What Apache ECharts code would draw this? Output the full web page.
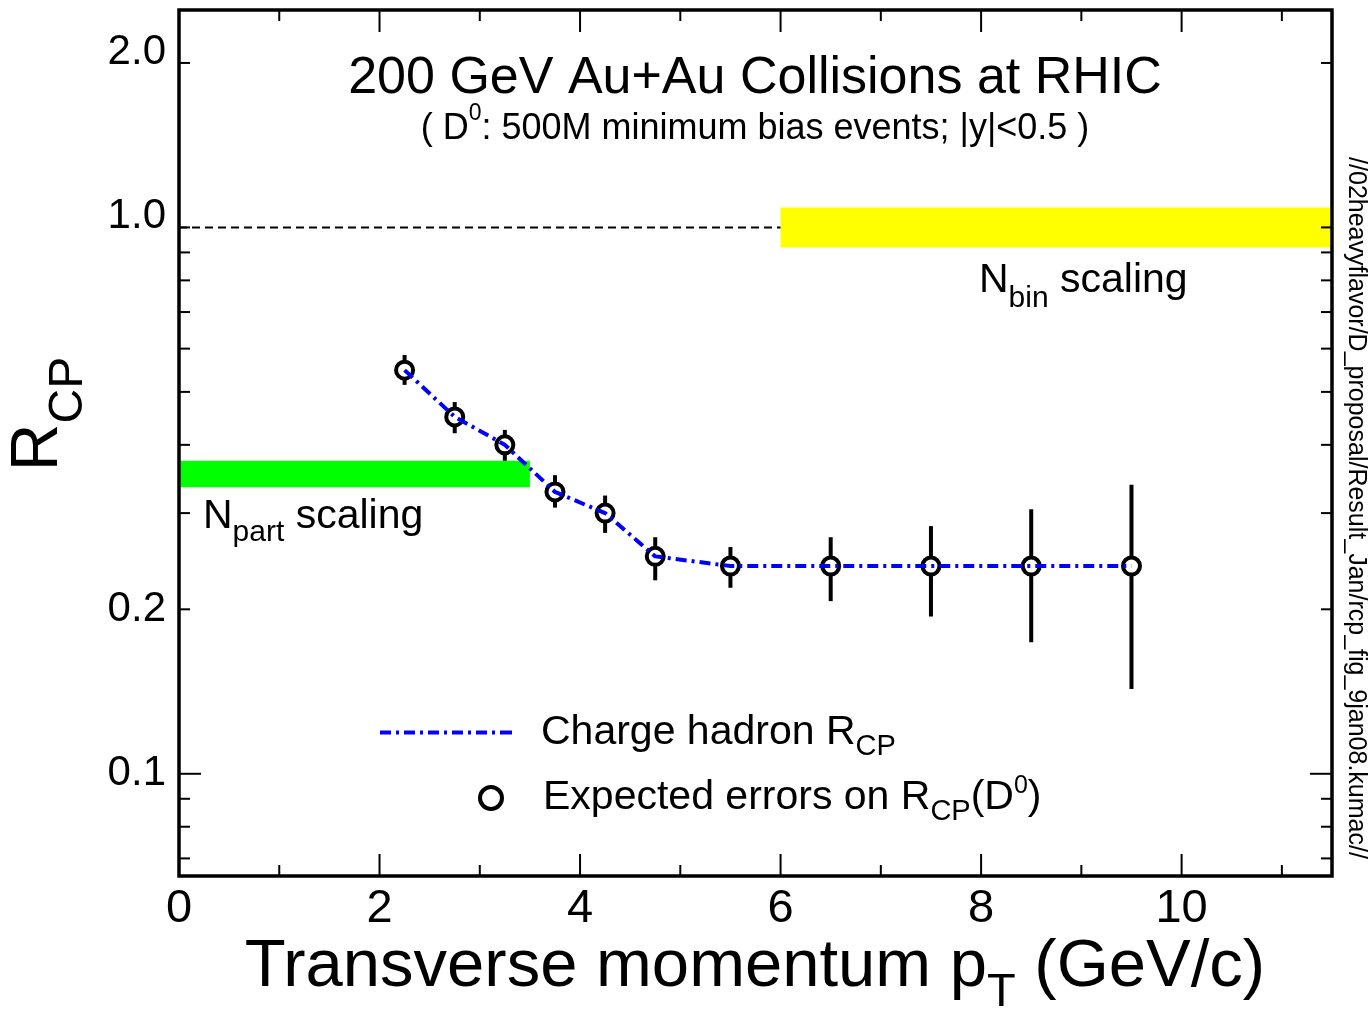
<!DOCTYPE html>
<html>
<head>
<meta charset="utf-8">
<script src="https://cdn.jsdelivr.net/npm/echarts@6/dist/echarts.min.js"></script>
<style>
html,body{margin:0;padding:0;background:#fff;}
#chart{width:1369px;height:1012px;}
</style>
</head>
<body>
<div id="chart"></div>
<script>
// ---------------- data ----------------
const ptD0      = [2.25, 2.75, 3.25, 3.75, 4.25, 4.75, 5.5, 6.5, 7.5, 8.5, 9.5];
const rcpD0     = [0.548, 0.450, 0.400, 0.328, 0.300, 0.250, 0.240, 0.240, 0.240, 0.240, 0.240];
const rcpD0Low  = [0.515, 0.420, 0.374, 0.307, 0.276, 0.226, 0.219, 0.207, 0.194, 0.174, 0.143];
const rcpD0High = [0.584, 0.479, 0.426, 0.352, 0.323, 0.271, 0.260, 0.271, 0.284, 0.305, 0.338];
const ptHadron  = [2.25, 2.75, 3.25, 3.75, 4.25, 4.75, 5.5, 6.5, 7.5, 8.5, 9.5];
const rcpHadron = [0.548, 0.450, 0.400, 0.328, 0.300, 0.250, 0.240, 0.240, 0.240, 0.240, 0.240];
const nbinBandPt   = [6, 11.5];
const nbinBandRcp  = [0.919, 1.088];
const npartBandPt  = [0, 3.5];
const npartBandRcp = [0.3345, 0.3742];
const unityPt  = [0, 6];
const unityRcp = [1, 1];
const xLabelTicks = [0, 2, 4, 6, 8, 10];
const xMinorTicks = [1, 3, 5, 7, 9, 11];
const yLabelTicks = [0.1, 0.2, 1, 2];
const yLabelText  = ['0.1', '0.2', '1.0', '2.0'];
const yShortTicks = [2, 1, 0.9, 0.8, 0.7, 0.6, 0.5, 0.4, 0.3, 0.2, 0.09, 0.08, 0.07];
const yLongTicks  = [0.1];

// ---------------- layout / style ----------------
const FONT = '"Liberation Sans", Arial, Helvetica, sans-serif';
const X_MIN = 0, X_MAX = 11.5, Y_MIN = 0.065, Y_MAX = 2.5;
const GRID = {left: 179, top: 10, width: 1153, height: 866};
const TICK_COLOR = '#000';

function xTickRender(len) {
  return function (params, api) {
    const x = api.value(0);
    const b = api.coord([x, Y_MIN]);
    const t = api.coord([x, Y_MAX]);
    return {type: 'group', children: [
      {type: 'line', shape: {x1: b[0], y1: b[1], x2: b[0], y2: b[1] - len}, style: {stroke: TICK_COLOR, lineWidth: 2}},
      {type: 'line', shape: {x1: t[0], y1: t[1], x2: t[0], y2: t[1] + len}, style: {stroke: TICK_COLOR, lineWidth: 2}}
    ]};
  };
}
function yTickRender(len) {
  return function (params, api) {
    const v = api.value(1);
    const l = api.coord([X_MIN, v]);
    const r = api.coord([X_MAX, v]);
    return {type: 'group', children: [
      {type: 'line', shape: {x1: l[0], y1: l[1], x2: l[0] + len, y2: l[1]}, style: {stroke: TICK_COLOR, lineWidth: 2}},
      {type: 'line', shape: {x1: r[0], y1: r[1], x2: r[0] - len, y2: r[1]}, style: {stroke: TICK_COLOR, lineWidth: 2}}
    ]};
  };
}
const bandColors = ['#ffff00', '#00ff00'];

const DASHDOT_ICON = 'path://M0,0h11v4h-11zM16,0h3v4h-3zM24,0h11v4h-11zM40,0h3v4h-3zM48,0h11v4h-11zM64,0h3v4h-3zM72,0h11v4h-11zM88,0h3v4h-3zM96,0h11v4h-11zM112,0h3v4h-3zM120,0h12v4h-12z';

const chart = echarts.init(document.getElementById('chart'), null, {renderer: 'canvas'});

const option = {
  backgroundColor: '#fff',
  animation: false,
  grid: {left: GRID.left, top: GRID.top, width: GRID.width, height: GRID.height, show: false},
  xAxis: {
    type: 'value', min: X_MIN, max: X_MAX, interval: 2,
    axisLine: {show: false}, axisTick: {show: false}, splitLine: {show: false},
    axisLabel: {fontSize: 47, fontFamily: FONT, color: '#000', margin: 10, showMaxLabel: false,
      formatter: function (v) { return xLabelTicks.indexOf(v) >= 0 ? String(v) : ''; }}
  },
  yAxis: {
    type: 'log', logBase: 10, min: Y_MIN, max: Y_MAX,
    axisLine: {show: false}, axisTick: {show: false}, splitLine: {show: false},
    axisLabel: {show: false}
  },
  legend: [
    {
      data: [{name: 'Charge hadron RCP', icon: DASHDOT_ICON}],
      left: 380, top: 712, padding: 0, itemWidth: 132, itemHeight: 4,
      selectedMode: false,
      itemStyle: {borderWidth: 0, color: '#0000ff'},
      formatter: function () { return 'Charge hadron R{sub|CP}'; },
      textStyle: {fontSize: 41, fontFamily: FONT, color: '#000', padding: [0, 0, 0, 24],
        rich: {sub: {fontSize: 29, fontFamily: FONT, color: '#000', padding: [28, 0, 0, 0]}}}
    },
    {
      data: [{name: 'Expected errors on RCP(D0)', icon: 'circle'}],
      left: 478, top: 774, padding: 0, itemWidth: 22, itemHeight: 22,
      selectedMode: false,
      itemStyle: {borderWidth: 4, borderColor: '#000', color: '#fff'},
      formatter: function () { return 'Expected errors on R{sub|CP}(D{sup|0})'; },
      textStyle: {fontSize: 41, fontFamily: FONT, color: '#000', padding: [0, 0, 0, 36],
        rich: {
          sub: {fontSize: 29, fontFamily: FONT, color: '#000', padding: [28, 0, 0, 0]},
          sup: {fontSize: 25, fontFamily: FONT, color: '#000', padding: [0, 0, 23, 0]}
        }}
    }
  ],
  graphic: [
    {type: 'rect', z: 100, silent: true,
      shape: {x: GRID.left, y: GRID.top, width: GRID.width, height: GRID.height},
      style: {fill: 'none', stroke: '#000', lineWidth: 3.5}},
    {type: 'text', x: 755, y: 79, silent: true,
      style: {text: '200 GeV Au+Au Collisions at RHIC', fontSize: 52, fontFamily: FONT, fill: '#000',
        align: 'center', verticalAlign: 'middle'}},
    {type: 'text', x: 755, y: 129, silent: true,
      style: {text: '( D{sup|0}: 500M minimum bias events; |y|<0.5 )', fontSize: 36, fontFamily: FONT, fill: '#000',
        align: 'center', verticalAlign: 'middle',
        rich: {sup: {fontSize: 23, fontFamily: FONT, fill: '#000', padding: [0, 0, 30, 0]}}}},
    {type: 'text', x: 979, y: 281, silent: true,
      style: {text: 'N{sub|bin} scaling', fontSize: 41, fontFamily: FONT, fill: '#000',
        align: 'left', verticalAlign: 'middle',
        rich: {sub: {fontSize: 30, fontFamily: FONT, fill: '#000', padding: [36, 0, 0, 0]}}}},
    {type: 'text', x: 203, y: 517, silent: true,
      style: {text: 'N{sub|part} scaling', fontSize: 41, fontFamily: FONT, fill: '#000',
        align: 'left', verticalAlign: 'middle',
        rich: {sub: {fontSize: 30, fontFamily: FONT, fill: '#000', padding: [32, 0, 0, 0]}}}},
    {type: 'text', x: 39, y: 414, rotation: Math.PI / 2, silent: true,
      style: {text: 'R{sub|CP}', fontSize: 66, fontFamily: FONT, fill: '#000',
        align: 'center', verticalAlign: 'middle',
        rich: {sub: {fontSize: 48, fontFamily: FONT, fill: '#000', padding: [59, 0, 0, 0]}}}},
    {type: 'text', x: 755, y: 968, silent: true,
      style: {text: 'Transverse momentum p{sub|T} (GeV/c)', fontSize: 67, fontFamily: FONT, fill: '#000',
        align: 'center', verticalAlign: 'middle',
        rich: {sub: {fontSize: 47, fontFamily: FONT, fill: '#000', padding: [50, 0, 0, 0]}}}},
    {type: 'text', x: 1356, y: 508, rotation: -Math.PI / 2, silent: true,
      style: {text: '//02heavyflavor/D_proposal/Result_Jan/rcp_fig_9jan08.kumac//', fontSize: 25, fontFamily: FONT,
        fill: '#000', align: 'center', verticalAlign: 'middle'}}
  ],
  series: [
    {
      name: 'bands', type: 'custom', z: 1, silent: true,
      data: [
        [nbinBandPt[0], nbinBandPt[1], nbinBandRcp[0], nbinBandRcp[1]],
        [npartBandPt[0], npartBandPt[1], npartBandRcp[0], npartBandRcp[1]]
      ],
      encode: {x: [0, 1], y: [2, 3]},
      renderItem: function (params, api) {
        const p0 = api.coord([api.value(0), api.value(3)]);
        const p1 = api.coord([api.value(1), api.value(2)]);
        return {type: 'rect', shape: {x: p0[0], y: p0[1], width: p1[0] - p0[0], height: p1[1] - p0[1]},
          style: {fill: bandColors[params.dataIndex]}};
      }
    },
    {
      name: 'unity', type: 'line', z: 2, silent: true, symbol: 'none',
      data: unityPt.map(function (x, i) { return [x, unityRcp[i]]; }),
      lineStyle: {color: '#000', width: 2, type: [8, 5]}
    },
    {
      name: 'errorbars', type: 'custom', z: 3, silent: true,
      data: ptD0.map(function (x, i) { return [x, rcpD0Low[i], rcpD0High[i]]; }),
      encode: {x: 0, y: [1, 2]},
      renderItem: function (params, api) {
        const lo = api.coord([api.value(0), api.value(1)]);
        const hi = api.coord([api.value(0), api.value(2)]);
        return {type: 'line', shape: {x1: lo[0], y1: lo[1], x2: hi[0], y2: hi[1]},
          style: {stroke: '#000', lineWidth: 4}};
      }
    },
    {
      name: 'Expected errors on RCP(D0)', type: 'scatter', z: 4, silent: true,
      symbol: 'circle', symbolSize: 17,
      data: ptD0.map(function (x, i) { return [x, rcpD0[i]]; }),
      itemStyle: {color: '#fff', borderColor: '#000', borderWidth: 4, opacity: 1}
    },
    {
      name: 'Charge hadron RCP', type: 'line', z: 5, silent: true,
      symbol: 'none', showSymbol: false,
      data: ptHadron.map(function (x, i) { return [x, rcpHadron[i]]; }),
      itemStyle: {color: '#0000ff'},
      lineStyle: {color: '#0000ff', width: 4, type: [11, 5, 3, 5]}
    },
    {
      name: 'xMajorTicks', type: 'custom', z: 6, silent: true,
      data: xLabelTicks.map(function (x) { return [x, 1]; }), encode: {x: 0, y: 1},
      renderItem: xTickRender(22)
    },
    {
      name: 'xMinorTicks', type: 'custom', z: 6, silent: true,
      data: xMinorTicks.map(function (x) { return [x, 1]; }), encode: {x: 0, y: 1},
      renderItem: xTickRender(11)
    },
    {
      name: 'yShortTicks', type: 'custom', z: 6, silent: true,
      data: yShortTicks.map(function (v) { return [X_MIN, v]; }), encode: {x: 0, y: 1},
      renderItem: yTickRender(11)
    },
    {
      name: 'yLongTicks', type: 'custom', z: 6, silent: true,
      data: yLongTicks.map(function (v) { return [X_MIN, v]; }), encode: {x: 0, y: 1},
      renderItem: yTickRender(22)
    },
    {
      name: 'yLabels', type: 'custom', z: 6, silent: true,
      data: yLabelTicks.map(function (v) { return [X_MIN, v]; }), encode: {x: 0, y: 1},
      renderItem: function (params, api) {
        const v = api.value(1);
        const p = api.coord([X_MIN, v]);
        const dy = v >= 1 ? -11 : 0;
        return {type: 'text', x: p[0] - 13, y: p[1] + dy,
          style: {text: yLabelText[params.dataIndex], fontSize: 42, fontFamily: FONT, fill: '#000',
            align: 'right', verticalAlign: 'middle'}};
      }
    }
  ]
};
chart.setOption(option);
</script>
</body>
</html>
